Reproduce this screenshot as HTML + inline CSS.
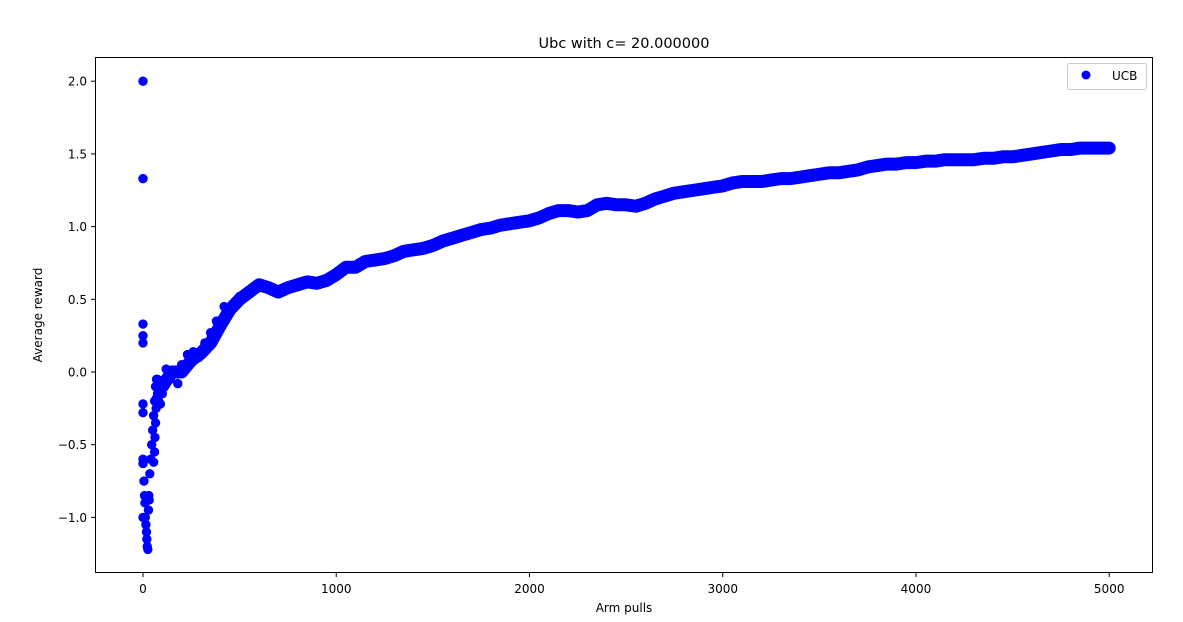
<!DOCTYPE html>
<html><head><meta charset="utf-8"><style>
body{margin:0;background:#fff}
svg{display:block;font-family:"DejaVu Sans","Liberation Sans",sans-serif}
</style></head><body>
<svg id="chart" width="1183" height="622">
<rect x="0" y="0" width="1183" height="622" fill="#fff"/>
<text x="624" y="48" font-size="14.5" text-anchor="middle">Ubc with c= 20.000000</text>
<g id="marks"></g>
<rect x="95.5" y="57.5" width="1057" height="515" fill="none" stroke="#000" stroke-width="1"/>
<g id="xticks"></g>
<g id="yticks"></g>
<text x="624" y="612" font-size="12" text-anchor="middle">Arm pulls</text>
<text transform="translate(42,315) rotate(-90)" font-size="12" text-anchor="middle">Average reward</text>
<g>
<rect x="1067.5" y="63.5" width="79" height="26" rx="2" fill="#fff" stroke="#ccc"/>
<circle cx="1086" cy="75" r="4.5" fill="#0000ff"/>
<text x="1112" y="80" font-size="12">UCB</text>
</g>
</svg>
<script>
const earlyX=[0,0,0,0,0,0,0,0,0,0,5,8,10,12,15,18,20,22,25,28,30,32,35,40,45,50,55,60,65,70,75,80,85,90,55,60,62,65,68,70,72,75,80,90,100,110,120,140,160,180,200,230,260,290,320,350,380,420,460,500];
const earlyY=[2.0,1.33,0.33,0.25,0.2,-0.22,-0.28,-1.0,-0.6,-0.63,-0.75,-0.85,-0.9,-1.0,-1.05,-1.1,-1.15,-1.2,-1.22,-0.95,-0.85,-0.88,-0.7,-0.6,-0.5,-0.4,-0.3,-0.2,-0.1,-0.05,-0.15,-0.22,-0.08,-0.12,-0.62,-0.55,-0.45,-0.35,-0.25,-0.18,-0.1,-0.05,-0.2,-0.22,-0.15,-0.05,0.02,-0.05,0.0,-0.08,0.05,0.12,0.14,0.1,0.2,0.27,0.35,0.45,0.46,0.52];
const curveX=[];for(let i=100;i<=5000;i+=50)curveX.push(i);
const curveY=[-0.1,0.0,0.0,0.08,0.13,0.2,0.32,0.43,0.5,0.55,0.6,0.58,0.55,0.58,0.6,0.62,0.61,0.63,0.67,0.72,0.72,0.76,0.77,0.78,0.8,0.83,0.84,0.85,0.87,0.9,0.92,0.94,0.96,0.98,0.99,1.01,1.02,1.03,1.04,1.06,1.09,1.11,1.11,1.1,1.11,1.15,1.16,1.15,1.15,1.14,1.16,1.19,1.21,1.23,1.24,1.25,1.26,1.27,1.28,1.3,1.31,1.31,1.31,1.32,1.33,1.33,1.34,1.35,1.36,1.37,1.37,1.38,1.39,1.41,1.42,1.43,1.43,1.44,1.44,1.45,1.45,1.46,1.46,1.46,1.46,1.47,1.47,1.48,1.48,1.49,1.5,1.51,1.52,1.53,1.53,1.54,1.54,1.54,1.54];
const xTicks=[0,1000,2000,3000,4000,5000];
const yTicks=[-1.0,-0.5,0.0,0.5,1.0,1.5,2.0];
const NS="http://www.w3.org/2000/svg";
const sx=v=>143+v*0.19324;
const sy=v=>372-v*145.4;
const marks=document.getElementById('marks');
let pts=curveX.map((x,i)=>sx(x)+','+sy(curveY[i])).join(' ');
const pl=document.createElementNS(NS,'polyline');
pl.setAttribute('points',pts);pl.setAttribute('fill','none');pl.setAttribute('stroke','#0000ff');
pl.setAttribute('stroke-width','13');pl.setAttribute('stroke-linejoin','round');pl.setAttribute('stroke-linecap','round');


marks.appendChild(pl);
function dot(x,y){const c=document.createElementNS(NS,'circle');c.setAttribute('cx',sx(x));c.setAttribute('cy',sy(y));c.setAttribute('r','4.7');c.setAttribute('fill','#0000ff');


marks.appendChild(c);}
earlyX.forEach((x,i)=>dot(x,earlyY[i]));
curveX.forEach((x,i)=>dot(x,curveY[i]));
const xg=document.getElementById('xticks');
xTicks.forEach(t=>{const x=sx(t);
const l=document.createElementNS(NS,'line');l.setAttribute('x1',x);l.setAttribute('x2',x);l.setAttribute('y1',573);l.setAttribute('y2',577);l.setAttribute('stroke','#000');


xg.appendChild(l);
const tx=document.createElementNS(NS,'text');tx.setAttribute('x',x);tx.setAttribute('y',593);tx.setAttribute('font-size','12');tx.setAttribute('text-anchor','middle');tx.textContent=t;


xg.appendChild(tx);});
const yg=document.getElementById('yticks');
yTicks.forEach(t=>{const y=sy(t);
const l=document.createElementNS(NS,'line');l.setAttribute('x1',91);l.setAttribute('x2',95.5);l.setAttribute('y1',y);l.setAttribute('y2',y);l.setAttribute('stroke','#000');


yg.appendChild(l);
const tx=document.createElementNS(NS,'text');tx.setAttribute('x',87);tx.setAttribute('y',y+4.5);tx.setAttribute('font-size','12');tx.setAttribute('text-anchor','end');tx.textContent=(t<0?'\u2212':'')+Math.abs(t).toFixed(1);


yg.appendChild(tx);});
</script>
</body></html>
